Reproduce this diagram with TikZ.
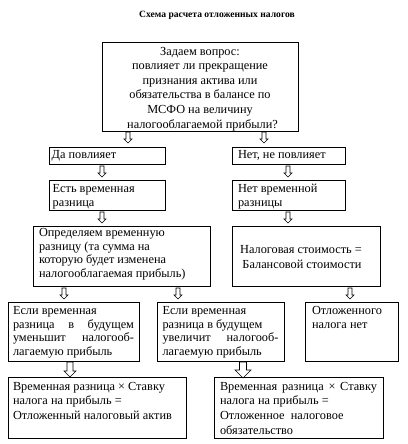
\documentclass[tikz,border=0pt]{standalone}
\usepackage{fontspec}
\setmainfont{Liberation Serif}
\newcommand\harr[5]{% cx, top, length, headwidth, shaft
  \draw[glyph] ({#1-#5/2},#2) -- ({#1+#5/2},#2) -- ({#1+#5/2},{#2+#3-#4/2}) -- ({#1+#4/2},{#2+#3-#4/2}) -- (#1,{#2+#3}) -- ({#1-#4/2},{#2+#3-#4/2}) -- ({#1-#5/2},{#2+#3-#4/2}) -- cycle;}
\newcommand\sline[1]{\makebox[\linewidth][s]{#1}}
\begin{document}
\begin{tikzpicture}[x=1pt,y=-1pt,
  box/.style={draw, line width=0.8pt, anchor=north west, inner ysep=0pt, outer sep=0pt},
  glyph/.style={draw, line width=0.6pt, line join=miter},
  txt/.style={font=\fontsize{12.3pt}{14pt}\selectfont}]
\useasboundingbox (0,0) rectangle (407,444);
\node[font=\fontsize{9.6pt}{11pt}\selectfont\bfseries] (title) at (217,15) {Схема расчета отложенных налогов};
% top question
\node[box, txt, inner xsep=0pt] (q) at (102,42) {\parbox[c][89pt][t]{196pt}{\centering\fontsize{12.3pt}{14.6pt}\selectfont
\rule{0pt}{13pt}Задаем вопрос:\\
повлияет ли прекращение\\
признания актива или\\
обязательства в балансе по\\
МСФО на величину\hspace*{12pt}\\
\hspace*{5pt}налогооблагаемой прибыли?\par}};
% row 2
\node[box, txt, inner xsep=2.7pt] (yes) at (49,147) {\parbox[c][17pt][t]{110.6pt}{\raggedright\rule{0pt}{11.3pt}Да повлияет\par}};
\node[box, txt, inner xsep=6pt] (no) at (232,147) {\parbox[c][17pt][t]{101pt}{\raggedright\rule{0pt}{11.3pt}Нет, не повлияет\par}};
% row 3
\node[box, txt, inner xsep=3.7pt] (yesdiff) at (49,180) {\parbox[c][30pt][t]{108.6pt}{\raggedright\fontsize{12.3pt}{14.4pt}\selectfont\rule{0pt}{12.3pt}Есть временная\\ разница\par}};
\node[box, txt, inner xsep=6pt] (nodiff) at (232,180) {\parbox[c][30pt][t]{101pt}{\raggedright\fontsize{12.3pt}{14.4pt}\selectfont\rule{0pt}{12.3pt}Нет временной\\ разницы\par}};
% row 4
\node[box, txt, inner xsep=6pt] (det) at (33,226) {\parbox[c][60pt][t]{165pt}{\raggedright\fontsize{12.3pt}{13.4pt}\selectfont\rule{0pt}{10.9pt}Определяем временную\\ разницу (та сумма на\\ которую будет изменена\\ налогооблагаемая прибыль)\par}};
\node[box, txt, inner xsep=0pt] (taxeq) at (232,226.5) {\parbox[c][59.5pt][t]{148pt}{\centering\fontsize{12.3pt}{15pt}\selectfont\rule{0pt}{26.8pt}\hspace*{-10pt}Налоговая стоимость =\\ \hspace*{-8pt}Балансовой стоимости\par}};
% row 5
\node[box, txt, inner xsep=5pt] (dec) at (8,302) {\parbox[c][59pt][t]{121pt}{\raggedright\fontsize{12.3pt}{13.8pt}\selectfont\rule{0pt}{12.3pt}Если временная\\
\sline{разница в будущем}\\
\sline{уменьшит налогооб-}\\
лагаемую прибыль\par}};
\node[box, txt, inner xsep=5.5pt] (inc) at (157,302) {\parbox[c][59pt][t]{116pt}{\raggedright\fontsize{12.3pt}{13.8pt}\selectfont\rule{0pt}{12.3pt}Если временная\\
разница в будущем\\
\sline{увеличит налогооб-}\\
лагаемую прибыль\par}};
\node[box, txt, inner xsep=7pt] (none) at (305,302) {\parbox[c][59pt][t]{79pt}{\raggedright\fontsize{12.3pt}{13.8pt}\selectfont\rule{0pt}{12.3pt}Отложенного\\ налога нет\par}};
% row 6
\node[box, txt, inner xsep=5pt] (dta) at (8,377) {\parbox[c][61pt][t]{168pt}{\raggedright\fontsize{12.3pt}{14.7pt}\selectfont\rule{0pt}{13pt}Временная разница × Ставку\\
налога на прибыль =\\
Отложенный налоговый актив\par}};
\node[box, txt, inner xsep=6pt] (dtl) at (214,377) {\parbox[c][61pt][t]{157pt}{\raggedright\fontsize{12.3pt}{14.7pt}\selectfont\rule{0pt}{13pt}\sline{Временная разница × Ставку}\\
налога на прибыль =\\
Отложенное\ \ налоговое\\
обязательство\par}};
% glyph arrows
\harr{128}{132}{11}{8}{4}
\harr{264}{132}{11}{8}{4}
\harr{102}{166}{11}{8}{4}
\harr{288}{166}{11}{8}{4}
\harr{102}{212}{11}{8}{4}
\harr{288}{212}{11}{8}{4}
\harr{64}{288}{11}{8}{4}
\harr{178}{288}{11}{8}{4}
\harr{350}{288}{11}{8}{4}
\harr{70}{362}{15}{12}{6}
\harr{243}{362}{16}{16}{7}
\end{tikzpicture}
\end{document}
